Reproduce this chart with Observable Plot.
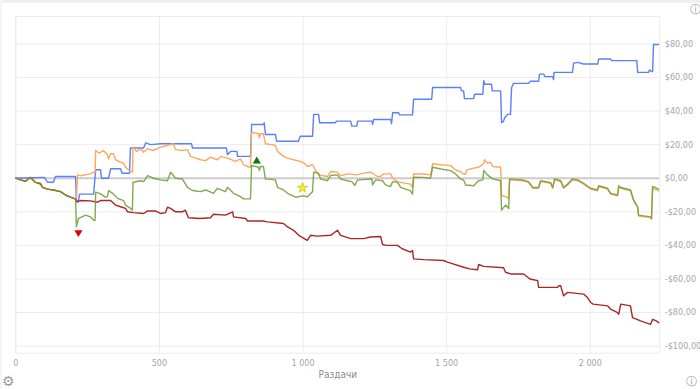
<!DOCTYPE html>
<html><head><meta charset="utf-8">
<script src="https://cdn.jsdelivr.net/npm/d3@7"></script>
<script src="https://cdn.jsdelivr.net/npm/@observablehq/plot@0.6"></script>
<style>
body{margin:0;background:#fff;width:700px;height:389px;overflow:hidden;position:relative;font-family:"Liberation Sans Narrow","DejaVu Sans Condensed",sans-serif}
#band{position:absolute;left:0;top:0;width:700px;height:3px;background:#f0f0f0}
#bandl{position:absolute;left:0;top:0;width:2px;height:389px;background:#f5f5f5}
.icon{position:absolute;color:#999;font-family:"DejaVu Sans";line-height:12px}
</style></head><body>
<div id="chart"></div>
<div id="band"></div><div id="bandl"></div>
<span class="icon" style="left:2px;top:375px;font-size:14px">⚙</span>
<span class="icon" style="left:686px;top:376px;font-size:11px">ⓘ</span>
<span class="icon" style="left:690px;top:4px;font-size:11px">ⓘ</span>
<script>
// hands (x) and winnings in $ (y)
const blueShowdown = [[0,0],[100,0.5],[110,-2.4],[131,-2.4],[138,1],[208,1],[211,-14],[218,-14],[222,-9.5],[271,-9.5],[278,5],[295,5],[298,0],[323,0],[330,5.6],[365,5.6],[370,3],[396,3],[399,18],[445,18],[452,21],[469,20],[504,20.5],[612,20.5],[615,18],[733,18],[737,14],[748,16],[770,16],[772,13],[817,13],[821,32],[862,32],[865,33],[869,26],[904,26],[908,22],[984,22],[990,25],[1033,25],[1037,38],[1054,38],[1058,33],[1113,33],[1116,34],[1166,34],[1170,31],[1187,31],[1190,34],[1240,34],[1242,32],[1246,35],[1305,35],[1308,32.5],[1312,39],[1333,39],[1336,37.7],[1381,37.7],[1385,47],[1448,47],[1451,54],[1548,54],[1552,52],[1559,52],[1562,47.4],[1594,47.4],[1597,50],[1626,50],[1629,58],[1633,56],[1656,56],[1659,52],[1688,52],[1691,33],[1698,34],[1702,36],[1712,38],[1722,38],[1726,54],[1733,56.5],[1785,56.5],[1792,57.7],[1820,57.7],[1823,62],[1838,62],[1842,60.5],[1869,60.5],[1872,58.7],[1874,63],[1938,63],[1942,68.5],[1956,69],[1977,68],[2026,68],[2029,71],[2071,71],[2074,70],[2162,70],[2165,63],[2203,63],[2206,64.5],[2213,63.5],[2217,63.5],[2220,79.6],[2238,79.6]];
const orangeAllIn = [[0,0],[16,-1],[34,-1.8],[51,0.5],[69,-2.5],[86,-3],[93,-5.4],[110,-6.5],[131,-7],[156,-8],[173,-10],[190,-11.3],[208,-12.5],[211,-13],[215,2],[225,1.5],[260,2.6],[271,3.6],[276,3.6],[278,16.5],[290,15],[305,16.5],[319,14],[323,11.5],[330,14.6],[340,14.6],[347,11],[365,9.5],[375,9],[382,6.5],[399,4],[406,3.6],[408,18.5],[420,16],[434,17.5],[445,15.5],[459,17.5],[479,16.5],[504,18.5],[528,19.5],[549,20.6],[556,17],[580,16.5],[598,17],[608,13],[626,12],[643,11],[661,10.5],[678,12.6],[702,11],[713,13],[737,12],[765,10],[782,11.5],[793,8],[807,7],[817,6.5],[821,27.4],[845,26.5],[848,24],[852,26.5],[862,26.5],[869,20.5],[890,20],[904,19.5],[911,16],[932,13],[946,12],[967,11],[991,10],[1008,8.5],[1015,7],[1033,8],[1044,4.6],[1054,2],[1085,1],[1096,4],[1120,3.6],[1131,1.5],[1155,2.6],[1187,2],[1211,3],[1235,3.6],[1246,2.5],[1259,1],[1270,1],[1280,2.6],[1305,2.6],[1312,0],[1329,-2],[1350,-2.8],[1374,-3.5],[1381,-5.4],[1385,2.6],[1420,2.5],[1444,2],[1451,8.6],[1480,8],[1514,7.5],[1530,5],[1548,4],[1559,2.5],[1566,2.5],[1570,5],[1594,6],[1611,6.5],[1629,8.6],[1632,11],[1642,9],[1653,9.5],[1660,7],[1688,6.5],[1691,-10.3],[1705,-11],[1716,-12],[1719,-1],[1764,-1.5],[1785,-2.5],[1800,-6],[1820,-6],[1827,-2],[1862,-3],[1869,-6],[1876,-1],[1897,-2],[1907,-6],[1921,-4],[1938,-1],[1956,-1.5],[1977,-3.5],[2001,-6.5],[2025,-7.5],[2029,-5],[2060,-6.5],[2071,-9.5],[2095,-10.5],[2099,-5],[2106,-6],[2140,-7.5],[2151,-13.5],[2165,-17.5],[2168,-22.5],[2210,-23.5],[2213,-24.5],[2217,-6],[2238,-7.5]];
const redNonShowdown = [[0,0],[16,-1],[34,-1.8],[51,0.5],[69,-2.5],[86,-3.5],[93,-5.4],[110,-6.5],[131,-7],[156,-8],[173,-10],[190,-11.3],[208,-12.3],[215,-14],[225,-13.3],[260,-13.5],[284,-14.3],[295,-13.3],[330,-13.3],[347,-16],[365,-17],[382,-18],[389,-20],[410,-20.5],[445,-21],[459,-19.5],[486,-19.5],[504,-21],[521,-20.5],[528,-17.3],[539,-18],[556,-20],[580,-20],[590,-19],[601,-23.5],[640,-24],[678,-23.5],[688,-21.5],[730,-22],[755,-20],[758,-23],[800,-24],[807,-25.5],[860,-25.5],[876,-26],[932,-27],[946,-29],[967,-31],[985,-34],[1015,-37],[1026,-34],[1050,-34.5],[1096,-34],[1120,-31],[1131,-34],[1166,-36],[1211,-36],[1235,-35],[1270,-34.7],[1277,-39.5],[1290,-40],[1329,-40],[1345,-42],[1374,-44],[1381,-43],[1385,-48],[1420,-48.5],[1489,-49],[1503,-50],[1559,-53],[1580,-54],[1608,-54.5],[1611,-51.4],[1629,-52.5],[1698,-53.3],[1705,-56],[1723,-57],[1768,-57],[1790,-60],[1817,-61],[1820,-65],[1886,-65],[1890,-64],[1897,-64],[1907,-70],[1921,-68],[1977,-69],[1990,-71],[2001,-74],[2010,-75],[2060,-76],[2071,-78],[2095,-80],[2099,-81],[2106,-75],[2140,-76],[2147,-83],[2175,-85],[2210,-87],[2217,-84],[2230,-85],[2238,-86]];
const greenNet = [[0,0],[16,-1],[34,-1.8],[51,0.5],[69,-2.5],[86,-3],[93,-5.4],[110,-6.5],[131,-7],[156,-8],[173,-10],[190,-11.3],[208,-12.5],[211,-29],[218,-24],[243,-22],[260,-23],[271,-25],[276,-25],[278,-8.3],[295,-9.3],[312,-11.3],[319,-11],[323,-7.3],[337,-9],[354,-12],[375,-13.3],[382,-16],[399,-18],[406,-19],[408,-2.4],[434,-1.5],[445,-2],[459,1.6],[479,0],[504,-1],[528,-1.5],[539,3.6],[556,0],[580,-0.5],[598,-5.5],[615,-7.3],[643,-8],[661,-7],[688,-9],[702,-6],[730,-8],[737,-5.4],[758,-9],[782,-11],[793,-12.3],[817,-12.3],[821,7.6],[845,6.5],[848,4.6],[852,7],[862,7],[869,-0.4],[904,-1],[911,-5.4],[932,-7],[946,-9],[974,-11.3],[1000,-10.5],[1015,-11],[1033,-8],[1037,3.6],[1054,3],[1061,-0.4],[1085,-1.5],[1096,1.6],[1120,2],[1131,-0.5],[1155,-1.5],[1170,-2],[1180,-4.3],[1190,-1],[1240,-0.5],[1242,-4],[1253,-1],[1277,-1.5],[1287,-4],[1305,-5],[1312,-2],[1329,-2.5],[1340,-5.5],[1374,-7.5],[1381,-9.5],[1385,0.6],[1420,0.5],[1444,0],[1451,6.5],[1480,5.5],[1514,4.5],[1530,2.6],[1548,-0.5],[1559,-1],[1566,-4],[1594,-4.5],[1611,-1.5],[1626,-1],[1629,4.6],[1642,2],[1660,-0.4],[1688,-1.5],[1691,-19],[1705,-16],[1716,-18],[1719,-0.4],[1764,-1],[1785,-2],[1800,-5.5],[1820,-5.5],[1827,-1.5],[1862,-2.6],[1869,-5.5],[1876,-0.4],[1897,-1.5],[1907,-5.5],[1921,-3.5],[1938,-0.5],[1956,-1],[1977,-3],[2001,-6],[2025,-7],[2029,-4.5],[2060,-6],[2071,-9],[2095,-10],[2099,-4.5],[2106,-5.5],[2140,-7],[2151,-13],[2165,-17],[2168,-22],[2210,-23],[2213,-24],[2217,-4.8],[2238,-6.5]];
const markers = [
  {hand:218, value:-32.3, kind:"triangle", rotate:180, fill:"#e60000"},
  {hand:839, value:10.2, kind:"triangle", rotate:0, fill:"#0b7a0b"},
  {hand:998, value:-5.8, kind:"star", rotate:0, fill:"#ffee22"}
];
const xTicks = [0,500,1000,1500,2000];
const yTicks = [-100,-80,-60,-40,-20,0,20,40,60,80];
const xLabel = "Раздачи";

const fmtX = d => d3.format(",")(d).replace(/,/g," ");
const fmtY = d => (d<0?"-":"") + "$" + Math.abs(d) + ",00";
const X = d => d[0], Y = d => d[1];
const lw = 1.4;

const chart = Plot.plot({
  width:700, height:389,
  marginLeft:15.3, marginRight:40.7, marginTop:16, marginBottom:36.3,
  style:{fontFamily:'"Liberation Sans Narrow","DejaVu Sans Condensed",sans-serif', fontSize:"9px", background:"transparent"},
  x:{domain:[0,2242]},
  y:{domain:[-104.2,96.3]},
  marks:[
    Plot.gridY(yTicks,{stroke:"#ececec",strokeOpacity:1}),
    Plot.gridX(xTicks,{stroke:"#ececec",strokeOpacity:1}),
    Plot.frame({stroke:"#ececec"}),
    Plot.ruleY([0],{stroke:"#cccccc",strokeWidth:2}),
    Plot.axisY(yTicks,{anchor:"right",tickSize:0,tickPadding:5,tickFormat:fmtY,fill:"#a6a6a6",label:null}),
    Plot.axisX(xTicks,{anchor:"bottom",tickSize:0,tickPadding:6,tickFormat:fmtX,fill:"#a6a6a6",label:null}),
    Plot.text([xLabel],{frameAnchor:"bottom",dy:25,text:d=>d,fill:"#8c8c8c",fontSize:10}),
    Plot.line(blueShowdown,{x:X,y:Y,stroke:"#5a7fff",strokeWidth:lw}),
    Plot.line(orangeAllIn,{x:X,y:Y,stroke:"#ffa75f",strokeWidth:lw}),
    Plot.line(redNonShowdown,{x:X,y:Y,stroke:"#a82828",strokeWidth:lw}),
    Plot.line(greenNet,{x:X,y:Y,stroke:"#74a03c",strokeWidth:lw,strokeOpacity:0.9}),
    Plot.dot(markers,{x:"hand",y:"value",symbol:"kind",rotate:"rotate",fill:"fill",r:d=>d.kind==="star"?5.8:5,stroke:d=>d.kind==="star"?"#b5b500":"none",strokeWidth:0.6})
  ]
});
document.getElementById("chart").appendChild(chart);
</script>
</body></html>
